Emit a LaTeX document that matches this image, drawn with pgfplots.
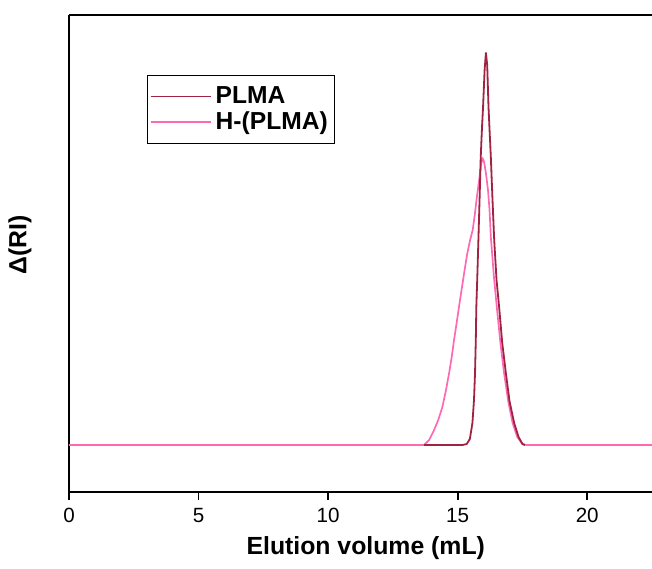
\documentclass[border=0pt]{standalone}
\usepackage{pgfplots}
\pgfplotsset{compat=1.18}
\usepackage{fontspec}
\setmainfont{Liberation Sans}
\definecolor{plma}{RGB}{160,35,65}
\definecolor{hplma}{RGB}{255,105,180}
\begin{document}
\begin{tikzpicture}
\useasboundingbox (-34.5pt,-38pt) rectangle (291.5pt,246pt);
\begin{axis}[
  at={(0,0)}, anchor=south west,
  scale only axis,
  width=291.5pt, height=238.5pt,
  xmin=0, xmax=22.5,
  ymin=-47, ymax=430,
  axis x line=box, axis y line=left,
  axis line style={line width=0.9pt, -},
  xtick={0,5,10,15,20},
  ytick=\empty,
  xtick pos=bottom,
  tick align=outside,
  major tick length=4pt,
  every tick/.style={line width=0.9pt, black},
  xticklabel style={font=\fontsize{10.3}{11}\selectfont, yshift=-0.5pt},
  /pgf/number format/assume math mode=true,
  xlabel={\bfseries Elution volume (mL)},
  ylabel={\bfseries Δ(RI)},
  xlabel style={at={(axis description cs:0.509,-0.117)}, anchor=center, font=\fontsize{12.4}{14}\selectfont},
  ylabel style={at={(axis description cs:-0.084,0.518)}, anchor=center, font=\fontsize{12.4}{14}\selectfont},
  legend style={at={(axis description cs:0.133,0.874)}, anchor=north west, draw=black,
    font=\bfseries\fontsize{12.3}{14}\selectfont, inner xsep=1.5pt, inner ysep=3.5pt, row sep=-1.5pt},
  legend cell align=left,
  legend image code/.code={\draw[#1] (0pt,0pt) -- (27pt,0pt); \path (0pt,0pt) -- (30pt,0pt);},
  clip=true,
]
\addplot[hplma, line width=0.85pt, line join=round, forget plot] coordinates {
(0,0) (13.70,0) (13.90,5) (14.09,15) (14.25,25) (14.41,38) (14.55,55) (14.67,72)
(14.77,88) (14.86,105) (14.96,122) (15.05,138) (15.15,155) (15.25,172) (15.36,190)
(15.48,205) (15.58,215) (15.66,230) (15.74,248) (15.83,265) (15.90,280) (15.96,287)
(16.02,283) (16.09,272) (16.17,255) (16.23,235) (16.28,208) (16.40,168) (16.51,138)
(16.65,102) (16.79,72) (16.95,44) (17.12,22) (17.30,8) (17.50,1) (17.65,0) (22.5,0)
};
\addplot[plma, line width=0.9pt, line join=round, forget plot] coordinates {
(13.70,0) (15.19,0) (15.35,1) (15.47,6) (15.57,22) (15.63,45) (15.67,72) (15.70,105)
(15.72,138) (15.76,170) (15.80,205) (15.85,250) (15.89,288) (15.94,318) (15.98,338)
(16.04,375) (16.09,392) (16.14,380) (16.19,338) (16.24,310) (16.28,288) (16.34,248)
(16.41,205) (16.50,165) (16.60,138) (16.72,102) (16.86,72) (17.00,44) (17.18,22)
(17.35,8) (17.50,1) (17.60,0)
};
\addlegendimage{plma, line width=0.9pt}
\addlegendentry{PLMA}
\addlegendimage{hplma, line width=0.85pt}
\addlegendentry{H-(PLMA)}
\end{axis}
\end{tikzpicture}
\end{document}
